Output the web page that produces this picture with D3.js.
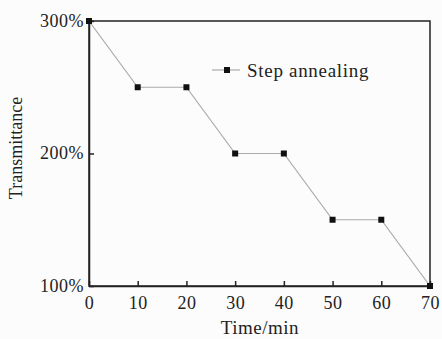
<!DOCTYPE html>
<html>
<head>
<meta charset="utf-8">
<script src="https://cdn.jsdelivr.net/npm/d3@7"></script>
<style>
  body { margin: 0; background: #fcfcfc; }
  text { font-family: "Liberation Serif", "DejaVu Serif", serif; fill: #222; }
</style>
</head>
<body>
<div id="chart"></div>
<script>
// data
const times = [0, 10, 20, 30, 40, 50, 60, 70];
const transmittance = [300, 250, 250, 200, 200, 150, 150, 100];
const xTicks = [0, 10, 20, 30, 40, 50, 60, 70];
const yTicks = [100, 200, 300];
const seriesName = "Step annealing";

let width = 442, height = 339;
let margin = {top: 21, right: 12, bottom: 53, left: 89};
let w = width - margin.left - margin.right;
let h = height - margin.top - margin.bottom;

let xScale = d3.scaleLinear().domain([0, 70]).range([0, w]);
let yScale = d3.scaleLinear().domain([100, 300]).range([h, 0]);

let svg = d3.select("#chart").append("svg")
    .attr("width", width)
    .attr("height", height)
    .style("background", "#fcfcfc");

let g = svg.append("g")
    .attr("transform", "translate(" + margin.left + "," + margin.top + ")");

// x axis, ticks point inward
let xAxis = g.append("g")
    .attr("transform", "translate(0," + h + ")")
    .call(d3.axisBottom(xScale).tickValues(xTicks).tickSizeInner(-5).tickSizeOuter(0).tickPadding(10));
xAxis.selectAll("text").style("font-size", "18px").style("letter-spacing", "0.5px").attr("fill", "#222");

// y axis
let yAxis = g.append("g")
    .call(d3.axisLeft(yScale).tickValues(yTicks).tickSizeInner(-5).tickSizeOuter(0).tickPadding(5)
      .tickFormat(d => d + "%"));
yAxis.selectAll("text").style("font-size", "18px").style("letter-spacing", "0.5px").attr("fill", "#222").attr("dy", "0.3em");

g.selectAll(".domain, .tick line").attr("stroke", "#222").attr("stroke-width", 1.5);

// frame top and right
g.append("rect")
    .attr("width", w).attr("height", h)
    .attr("fill", "none").attr("stroke", "#222").attr("stroke-width", 1.5);

// line
let line = d3.line()
    .x((d, i) => xScale(times[i]))
    .y(d => yScale(d));

g.append("path")
    .datum(transmittance)
    .attr("fill", "none")
    .attr("stroke", "#aaa")
    .attr("stroke-width", 1.2)
    .attr("d", line);

g.selectAll(".pt")
    .data(transmittance)
    .enter().append("rect")
    .attr("class", "pt")
    .attr("x", (d, i) => xScale(times[i]) - 3)
    .attr("y", d => yScale(d) - 3)
    .attr("width", 6).attr("height", 6)
    .attr("fill", "#111");

// legend
let leg = svg.append("g").attr("transform", "translate(212,70)");
leg.append("line").attr("x1", 0).attr("x2", 28).attr("y1", 0).attr("y2", 0)
    .attr("stroke", "#aaa").attr("stroke-width", 1.2);
leg.append("rect").attr("x", 12).attr("y", -3).attr("width", 6).attr("height", 6).attr("fill", "#111");
leg.append("text").attr("x", 35).attr("y", 6.5)
    .style("font-size", "19px").style("letter-spacing", "0.7px")
    .text(seriesName);

// axis titles
svg.append("text")
    .attr("text-anchor", "middle")
    .attr("transform", "translate(22,148)rotate(-90)")
    .style("font-size", "18px")
    .text("Transmittance");

svg.append("text")
    .attr("text-anchor", "middle")
    .attr("x", 260).attr("y", 334)
    .style("font-size", "19px").style("letter-spacing", "0.5px")
    .text("Time/min");
</script>
</body>
</html>
